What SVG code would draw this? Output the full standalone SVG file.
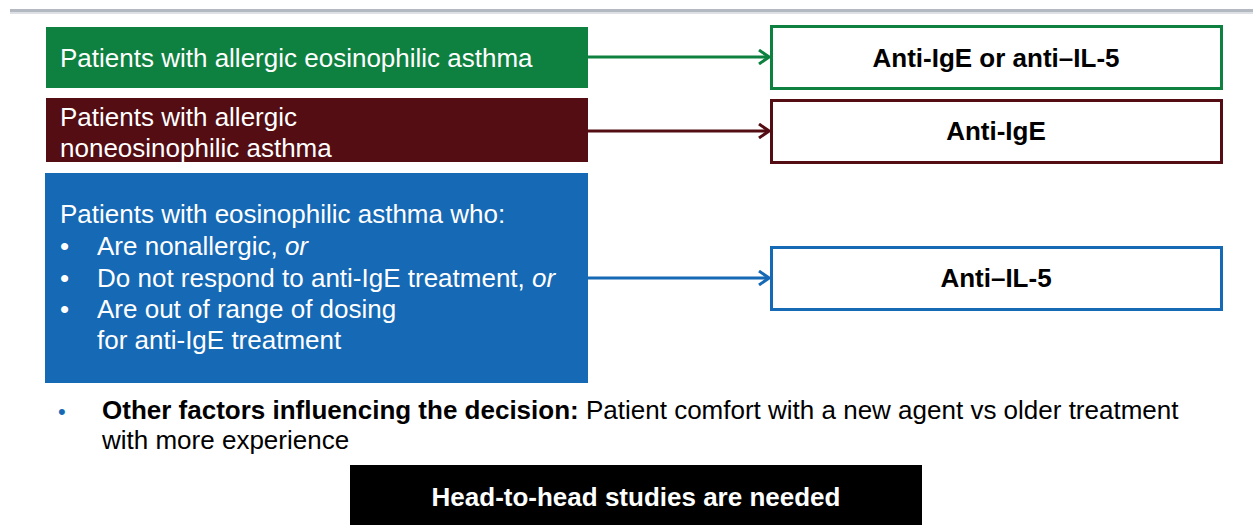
<svg xmlns="http://www.w3.org/2000/svg" width="1253" height="525" viewBox="0 0 1253 525">
<defs>
<style>
.t{font-family:"Liberation Sans",Arial,sans-serif;font-size:26px;fill:#fff}
.b{font-family:"Liberation Sans",Arial,sans-serif;font-size:26px;font-weight:bold;fill:#000}
.k{font-family:"Liberation Sans",Arial,sans-serif;font-size:26px;fill:#000}
.lbl{text-anchor:middle}
.conn{fill:none;stroke-width:3}
</style>
<marker id="ag" viewBox="0 0 12 16" refX="11" refY="8" markerWidth="12" markerHeight="16" markerUnits="userSpaceOnUse" orient="auto"><path d="M1,1 L11,8 L1,15" fill="none" stroke="#0e8140" stroke-width="3"/></marker>
<marker id="am" viewBox="0 0 12 16" refX="11" refY="8" markerWidth="12" markerHeight="16" markerUnits="userSpaceOnUse" orient="auto"><path d="M1,1 L11,8 L1,15" fill="none" stroke="#530d13" stroke-width="3"/></marker>
<marker id="ab" viewBox="0 0 12 16" refX="11" refY="8" markerWidth="12" markerHeight="16" markerUnits="userSpaceOnUse" orient="auto"><path d="M1,1 L11,8 L1,15" fill="none" stroke="#1669b4" stroke-width="3"/></marker>
</defs>
<rect width="1253" height="525" fill="#fff"/>
<rect x="10" y="9" width="1243" height="3" fill="#b4b9c1"/>
<rect x="10" y="12" width="1243" height="2" fill="#dde0e4"/>

<g id="src-green">
<rect x="46" y="27" width="542" height="61" fill="#0e8140"/>
<text class="t" x="60" y="67">Patients with allergic eosinophilic asthma</text>
</g>
<g id="src-maroon">
<rect x="46" y="98" width="542" height="64" fill="#530d13"/>
<text class="t" x="60" y="126">Patients with allergic</text>
<text class="t" x="60" y="157">noneosinophilic asthma</text>
</g>
<g id="src-blue">
<rect x="45" y="173" width="543" height="210" fill="#1669b4"/>
<text class="t" x="60" y="223">Patients with eosinophilic asthma who:</text>
<text class="t" x="60" y="255">•</text>
<text class="t" x="97" y="255">Are nonallergic, <tspan font-style="italic">or</tspan></text>
<text class="t" x="60" y="287">•</text>
<text class="t" x="97" y="287">Do not respond to anti-IgE treatment, <tspan font-style="italic">or</tspan></text>
<text class="t" x="60" y="318">•</text>
<text class="t" x="97" y="318">Are out of range of dosing</text>
<text class="t" x="97" y="349">for anti-IgE treatment</text>
</g>

<g id="dst-green">
<rect x="771.5" y="26.5" width="450" height="62" fill="#fff" stroke="#0e8140" stroke-width="3"/>
<text class="b lbl" x="996" y="67">Anti-IgE or anti–IL-5</text>
</g>
<g id="dst-maroon">
<rect x="771.5" y="100.5" width="450" height="62" fill="#fff" stroke="#530d13" stroke-width="3"/>
<text class="b lbl" x="996" y="140">Anti-IgE</text>
</g>
<g id="dst-blue">
<rect x="771.5" y="247.5" width="450" height="62" fill="#fff" stroke="#1669b4" stroke-width="3"/>
<text class="b lbl" x="996" y="287">Anti–IL-5</text>
</g>

<g id="connectors">
<line class="conn" x1="588" y1="57" x2="769" y2="57" stroke="#0e8140" marker-end="url(#ag)"/>
<line class="conn" x1="588" y1="131" x2="769" y2="131" stroke="#530d13" marker-end="url(#am)"/>
<line class="conn" x1="588" y1="278" x2="769" y2="278" stroke="#1669b4" marker-end="url(#ab)"/>
</g>

<g id="note">
<text x="58" y="419" style="font-family:'Liberation Sans',Arial,sans-serif;font-size:22px;fill:#1669b4">•</text>
<text class="k" x="102" y="419"><tspan font-weight="bold">Other factors influencing the decision:</tspan> Patient comfort with a new agent vs older treatment</text>
<text class="k" x="102" y="449">with more experience</text>
</g>

<g id="banner">
<rect x="350" y="465" width="572" height="60" fill="#000"/>
<text class="b lbl" x="636" y="506" style="fill:#fff">Head-to-head studies are needed</text>
</g>
</svg>
